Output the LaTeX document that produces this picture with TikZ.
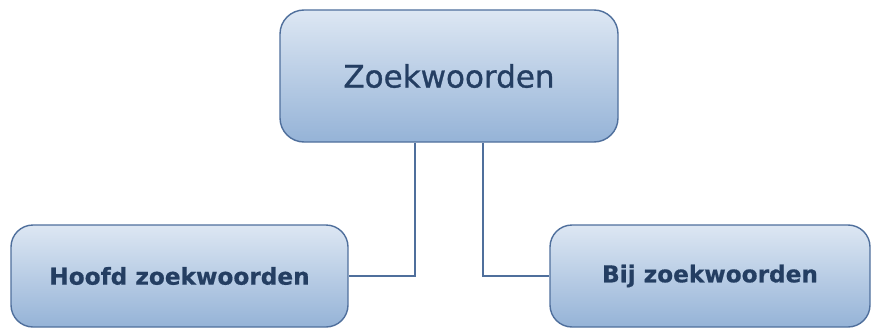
\documentclass[tikz,border=0pt]{standalone}
\usepackage{fontspec}
\setmainfont{DejaVu Sans}
\newfontfamily\kopfont[FakeBold=0.9]{DejaVu Sans}
\newfontfamily\subfont[FakeBold=0.6]{DejaVu Sans Bold}
\usepackage{tikz}
\usetikzlibrary{positioning}
\definecolor{boxtop}{RGB}{221,231,243}
\definecolor{boxbottom}{RGB}{149,179,215}
\definecolor{boxline}{RGB}{79,111,156}
\definecolor{boxtext}{RGB}{36,62,98}
\tikzset{woordbox/.style = {draw=boxline, line width=1.4pt, rounded corners=24pt, top color=boxtop, bottom color=boxbottom, text=boxtext, inner sep=0pt}}
\tikzset{hoofdbox/.style = {woordbox, minimum width=338pt, minimum height=132pt, font=\kopfont\fontsize{31}{36}\selectfont}}
\tikzset{subbox/.style = {woordbox, rounded corners=22pt, minimum height=102pt, font=\subfont\fontsize{23.2}{28}\selectfont}}

\begin{document}
\begin{tikzpicture}[x=1pt, y=-1pt, semithick]
  \useasboundingbox (0,0) rectangle (877,329);
  \node [hoofdbox] (zoek) at (449,76) {Zoekwoorden};
  \node [subbox, minimum width=337pt] (hoofd) at (179.5,276) {Hoofd zoekwoorden};
  \node [subbox, minimum width=320pt] (bij) at (710,276) {Bij zoekwoorden};

  \draw [boxline, line width=1.4pt] ([xshift=-34pt]zoek.south) |- (hoofd.east);
  \draw [boxline, line width=1.4pt] ([xshift=34pt]zoek.south) |- (bij.west);
\end{tikzpicture}
\end{document}
